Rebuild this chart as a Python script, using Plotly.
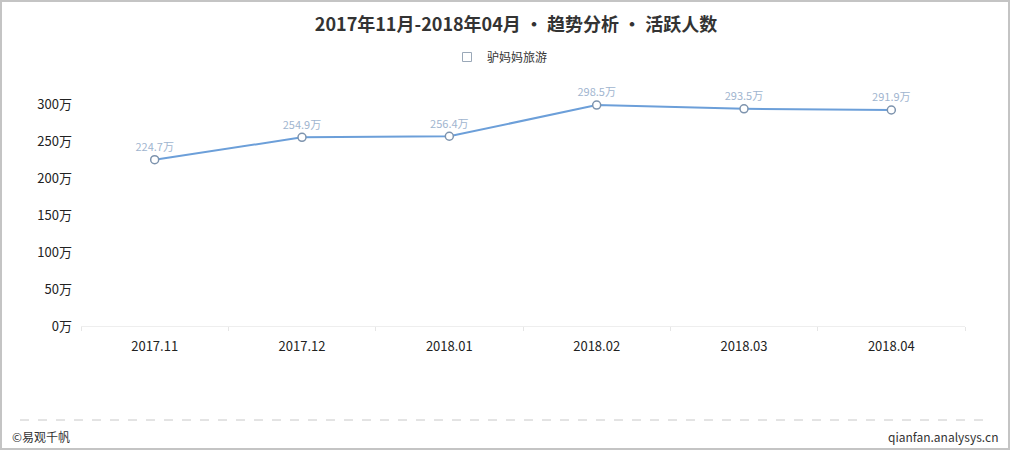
import plotly.graph_objects as go

# data (万)
months = ["2017.11", "2017.12", "2018.01", "2018.02", "2018.03", "2018.04"]
active_users = [224.7, 254.9, 256.4, 298.5, 293.5, 291.9]
y_ticks = [0, 50, 100, 150, 200, 250, 300]
series_name = "驴妈妈旅游"

W, H = 1010, 450
L, R, T, B = 81, 45, 104, 124
pw, ph = W - L - R, H - T - B


def px(x):
    return (x - L) / pw


def py(y):
    return (H - B - y) / ph


FONT = "Noto Sans CJK SC, Microsoft YaHei, sans-serif"
LINE = "#6c9fd9"

fig = go.Figure()
fig.add_trace(go.Scatter(
    x=months, y=active_users, mode="lines+markers+text",
    line=dict(color=LINE, width=2),
    marker=dict(size=8, color="white", line=dict(color="#7d93ad", width=1.5)),
    text=[f"{v}万" for v in active_users], textposition="top center",
    textfont=dict(size=11, color="#9fb5cf", family=FONT),
    cliponaxis=False, showlegend=False, hoverinfo="x+y",
))
# legend entry: small hollow box
fig.add_trace(go.Scatter(
    x=[None], y=[None], mode="markers", name=series_name,
    marker=dict(symbol="square-open", size=9, color="#9aa8b8", line=dict(width=1)),
))

shapes = [
    dict(type="line", xref="paper", yref="paper", x0=px(20), x1=px(990),
         y0=py(420), y1=py(420), line=dict(color="#c8c8c8", width=1, dash="dash")),
    dict(type="rect", xref="paper", yref="paper", x0=px(1), x1=px(W - 1),
         y0=py(1), y1=py(H - 1), line=dict(color="#c4c4c4", width=2)),
]

fig.update_layout(
    width=W, height=H,
    margin=dict(l=L, r=R, t=T, b=B),
    paper_bgcolor="white", plot_bgcolor="white",
    font=dict(family=FONT, size=13, color="#333"),
    title=dict(text="<b>2017年11月-2018年04月 • 趋势分析 • 活跃人数</b>",
               x=516 / W, xanchor="center", y=1 - 25 / H, yanchor="middle",
               font=dict(size=18, color="#333", family=FONT)),
    legend=dict(orientation="h", x=px(500), xanchor="center", y=py(57), yanchor="middle",
                font=dict(size=12, color="#333"), bgcolor="rgba(0,0,0,0)",
                itemwidth=30),
    xaxis=dict(type="category", range=[-0.5, len(months) - 0.5], showgrid=False,
               showline=True, linecolor="#eeeeee",
               ticks="outside", ticklen=4, tickcolor="#e6e6e6", tickson="boundaries",
               tickfont=dict(size=13, color="#222"), ticklabelstandoff=8),
    yaxis=dict(range=[0, 300], tickvals=y_ticks, ticktext=[f"{v}万" for v in y_ticks],
               showgrid=False, zeroline=False, showline=False,
               tickfont=dict(size=13, color="#222"), ticklabelstandoff=8),
    shapes=shapes,
    annotations=[
        dict(text="©易观千帆", xref="paper", yref="paper", x=px(10), y=py(436),
             xanchor="left", yanchor="middle", showarrow=False,
             font=dict(size=12, color="#333")),
        dict(text="qianfan.analysys.cn", xref="paper", yref="paper", x=px(1000), y=py(436),
             xanchor="right", yanchor="middle", showarrow=False,
             font=dict(size=12, color="#333")),
    ],
)

fig.write_html("out.html", config={"displayModeBar": False},
               post_script="document.body.style.margin='0';")
